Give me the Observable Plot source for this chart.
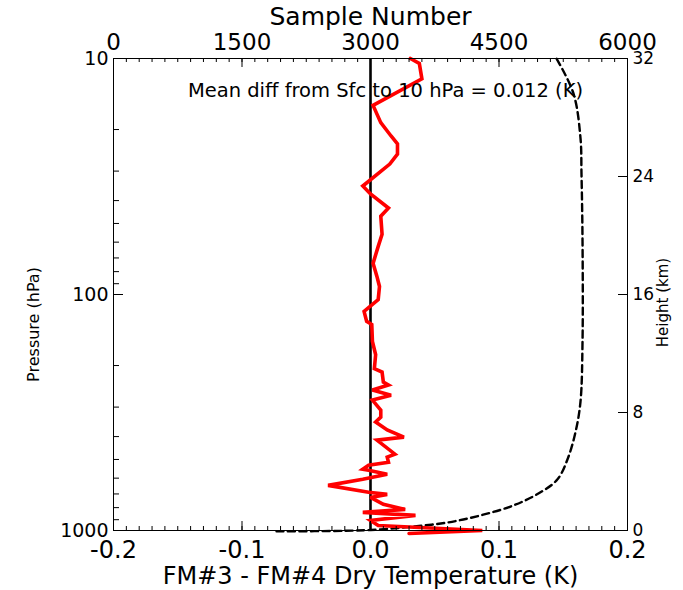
<!DOCTYPE html>
<html><head><meta charset="utf-8">
<script src="https://cdn.jsdelivr.net/npm/d3@7"></script>
<script src="https://cdn.jsdelivr.net/npm/@observablehq/plot@0.6"></script>
<style>body{margin:0;background:#fff;}#chart{width:683px;height:590px;}</style>
</head><body><div id="chart"></div>
<script>
// Red profile: FM#3 - FM#4 dry temperature difference (K) vs pressure (hPa)
const diffT = [0.031, 0.038, 0.040, 0.002, 0.008, 0.016, 0.021, 0.021, 0.015, -0.006, 0.000, 0.014, 0.008, 0.009, 0.006, 0.002, 0.005, 0.007, 0.006, -0.005, -0.003, 0.001, 0.0015, 0.004, 0.003, 0.009, 0.010, 0.014, 0.0015, 0.016, 0.0015, 0.008, 0.008, 0.004, 0.013, 0.026, 0.005, 0.019, 0.013, 0.014, -0.0015, -0.006, -0.0015, 0.013, -0.006, -0.033, -0.0015, 0.013, 0.000, 0.010, 0.027, -0.006, 0.035, 0.000, 0.006, 0.087, 0.030];
const diffP = [10, 10.5, 12.2, 15.8, 18.7, 21.3, 23.0, 25.4, 28.0, 34.7, 37.5, 43.0, 46.6, 55.6, 62.5, 73.8, 83.8, 92.5, 105, 118, 130, 134, 158, 180, 206, 213, 235, 242, 254, 267, 280, 309, 331, 347, 375, 402, 414, 475, 489, 514, 529, 550, 555, 578, 607, 644, 689, 703, 724, 775, 814, 838, 863, 906, 952, 1000, 1030];
// Dashed: sample number vs pressure
const sampleN = [1903, 2700, 3117, 3502, 3899, 4284, 4669, 4984, 5183, 5300, 5393, 5451, 5475, 5475, 5463, 5451, 5370, 5171];
const sampleP = [1008, 1003, 990, 962, 925, 863, 783, 689, 607, 499, 383, 285, 158, 59.5, 30.9, 21.7, 14.1, 10];

const tempTicks = [-0.2, -0.1, 0, 0.1, 0.2];
const tempTickLabels = ["-0.2", "-0.1", "0.0", "0.1", "0.2"];
const tempMinor = d3.range(-20, 21).map(i => i / 100);
const sampleTicks = [0, 1500, 3000, 4500, 6000];
const sampleMinor = d3.range(0, 41).map(i => i * 150);
const pressureTicks = [10, 100, 1000];
const pressureMinor = [20, 30, 40, 50, 60, 70, 80, 90, 200, 300, 400, 500, 600, 700, 800, 900];
const heightTicks = [0, 8, 16, 24, 32];

const W = 683, H = 590, mL = 113, mR = 56, mT = 58, mB = 60;
const plotW = W - mL - mR, plotH = H - mT - mB;
const toT = s => -0.2 + 0.4 * s / 6000;
const fromT = t => (t + 0.2) / 0.4 * 6000;
const toP = h => 1000 * Math.pow(10, -h / 16);
const fromP = p => 16 * Math.log10(1000 / p);

const red = diffT.map((t, i) => ({t, p: diffP[i]}));
const dash = sampleN.map((s, i) => ({t: toT(s), p: sampleP[i]}));

const font = "DejaVu Sans";
const chart = Plot.plot({
  width: W, height: H,
  marginLeft: mL, marginRight: mR, marginTop: mT, marginBottom: mB,
  style: {fontFamily: font, color: "black", background: "white", overflow: "visible"},
  x: {domain: [-0.2, 0.2]},
  y: {type: "log", domain: [1000, 10]},
  marks: [
    Plot.line(dash, {x: "t", y: "p", stroke: "black", strokeWidth: 2.4, strokeDasharray: "7,4.5", curve: "catmull-rom"}),
    Plot.ruleX([0], {stroke: "black", strokeWidth: 2.6}),
    Plot.line(red, {x: "t", y: "p", stroke: "#ff0000", strokeWidth: 3.6, strokeLinejoin: "miter", strokeMiterlimit: 3}),
    // inward tick marks
    Plot.tickX(tempMinor, {x: d => d, insetTop: plotH - 4, stroke: "black", strokeWidth: 1}),
    Plot.tickX(tempTicks, {x: d => d, insetTop: plotH - 9, stroke: "black", strokeWidth: 1}),
    Plot.tickX(sampleMinor, {x: d => toT(d), insetBottom: plotH - 4, stroke: "black", strokeWidth: 1}),
    Plot.tickX(sampleTicks, {x: d => toT(d), insetBottom: plotH - 9, stroke: "black", strokeWidth: 1}),
    Plot.tickY(pressureMinor, {y: d => d, insetRight: plotW - 6, stroke: "black", strokeWidth: 1}),
    Plot.tickY(pressureTicks, {y: d => d, insetRight: plotW - 10, stroke: "black", strokeWidth: 1}),
    Plot.tickY(heightTicks, {y: d => toP(d), insetLeft: plotW - 9, stroke: "black", strokeWidth: 1}),
    Plot.frame({stroke: "black", strokeWidth: 1}),
    // axes (labels only)
    Plot.axisX({anchor: "bottom", ticks: tempTicks, tickSize: 0, tickPadding: 10, fontSize: 24,
      tickFormat: d => tempTickLabels[tempTicks.findIndex(v => Math.abs(v - d) < 1e-9)], label: null}),
    Plot.axisX({anchor: "top", ticks: sampleTicks.map(toT), tickSize: 0, tickPadding: 9, fontSize: 23,
      tickFormat: d => String(Math.round(fromT(d))), label: null}),
    Plot.axisY({anchor: "left", ticks: pressureTicks, tickSize: 0, tickPadding: 5, fontSize: 19,
      tickFormat: d => String(d), label: null}),
    Plot.axisY({anchor: "right", ticks: heightTicks.map(toP), tickSize: 0, tickPadding: 5, fontSize: 17,
      tickFormat: d => String(Math.round(fromP(d))), label: null}),
    // axis titles
    Plot.text(["Sample Number"], {frameAnchor: "top", dy: -42, fontSize: 25, lineAnchor: "middle", textAnchor: "middle", text: d => d}),
    Plot.text(["FM#3 - FM#4 Dry Temperature (K)"], {frameAnchor: "bottom", dy: 46, fontSize: 24, lineAnchor: "middle", textAnchor: "middle", text: d => d, ariaLabel: "xlabel-bottom"}),
    Plot.text(["Pressure (hPa)"], {frameAnchor: "left", dx: -80, dy: 30, rotate: -90, fontSize: 16, lineAnchor: "middle", textAnchor: "middle", text: d => d, ariaLabel: "ylabel-left"}),
    Plot.text(["Height (km)"], {frameAnchor: "right", dx: 36, dy: 8, rotate: -90, fontSize: 15, lineAnchor: "middle", textAnchor: "middle", text: d => d, ariaLabel: "ylabel-right"}),
    Plot.text(["Mean diff from Sfc to 10 hPa = 0.012 (K)"], {frameAnchor: "top", dx: 15, dy: 32, fontSize: 19.5, lineAnchor: "middle", textAnchor: "middle", text: d => d})
  ]
});
document.getElementById("chart").appendChild(chart);
d3.select(chart).selectAll('g[aria-label="ylabel-left"] text').attr("textLength", 150).attr("lengthAdjust", "spacingAndGlyphs");
d3.select(chart).selectAll('g[aria-label="ylabel-right"] text').attr("textLength", 89).attr("lengthAdjust", "spacingAndGlyphs");
d3.select(chart).selectAll('g[aria-label="xlabel-bottom"] text').attr("textLength", 467).attr("lengthAdjust", "spacingAndGlyphs");
</script>
</body></html>
